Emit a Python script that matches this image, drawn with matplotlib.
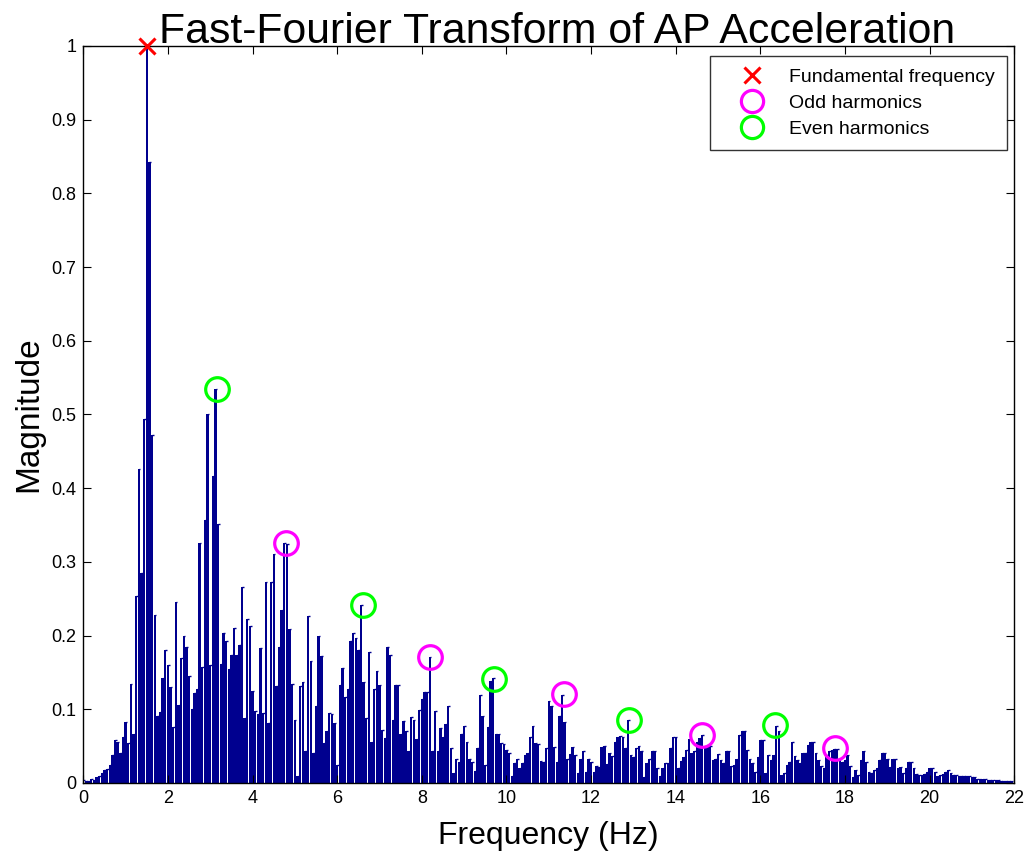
import numpy as np
import matplotlib
matplotlib.use("Agg")
import matplotlib.pyplot as plt
from matplotlib.lines import Line2D

plt.rcParams['font.family'] = ['Liberation Sans', 'DejaVu Sans']

# FFT bin spacing (Hz) and magnitudes, by frequency range
df = 0.0625
mag_0_to_5 = [
    0.004, 0.003, 0.003, 0.005, 0.004, 0.008, 0.010, 0.013, 0.017, 0.019,
    0.024, 0.038, 0.058, 0.055, 0.040, 0.063, 0.083, 0.054,
    0.134, 0.066, 0.253, 0.426, 0.285, 0.494, 1.0, 0.843, 0.472, 0.228,
    0.091, 0.096, 0.143, 0.181, 0.16, 0.13, 0.076, 0.245, 0.106, 0.169,
    0.2, 0.185, 0.145, 0.1, 0.122, 0.128, 0.326, 0.158, 0.357, 0.5,
    0.16, 0.416, 0.534, 0.352, 0.162, 0.204, 0.193, 0.154, 0.173, 0.21,
    0.173, 0.187, 0.266, 0.088, 0.222, 0.213, 0.125, 0.098, 0.094, 0.183,
    0.095, 0.273, 0.082, 0.273, 0.311, 0.132, 0.184, 0.235, 0.326, 0.324,
    0.209, 0.134, 0.086, 0.01, 0.131, 0.137, 0.044, 0.226, 0.165, 0.041,
    0.105,
]
mag_5_to_11 = [
    0.199, 0.172, 0.054, 0.070, 0.095, 0.094, 0.082, 0.024, 0.133, 0.156,
    0.117, 0.128, 0.193, 0.203, 0.196, 0.180, 0.241, 0.137, 0.088, 0.178,
    0.056, 0.128, 0.152, 0.133, 0.072, 0.061, 0.184, 0.173, 0.086, 0.133,
    0.133, 0.067, 0.084, 0.070, 0.043, 0.089, 0.086, 0.059, 0.099, 0.114,
    0.123, 0.123, 0.171, 0.044, 0.097, 0.044, 0.074, 0.063, 0.080, 0.104,
    0.048, 0.014, 0.032, 0.028, 0.067, 0.077, 0.056, 0.033, 0.028, 0.016,
    0.048, 0.120, 0.091, 0.024, 0.076, 0.139, 0.142, 0.067, 0.066, 0.054,
    0.053, 0.045, 0.041, 0.010, 0.027, 0.032, 0.020, 0.027, 0.038, 0.041,
    0.063, 0.077, 0.054, 0.053, 0.030, 0.028, 0.048, 0.111, 0.104, 0.049,
]
mag_11_to_17 = [
    0.029, 0.091, 0.120, 0.083, 0.033, 0.039, 0.049, 0.038, 0.014, 0.033,
    0.044, 0.015, 0.033, 0.028, 0.015, 0.023, 0.021, 0.049, 0.050, 0.026,
    0.041, 0.037, 0.056, 0.062, 0.064, 0.063, 0.048, 0.086, 0.038, 0.035,
    0.048, 0.050, 0.044, 0.008, 0.027, 0.032, 0.044, 0.044, 0.020, 0.009,
    0.020, 0.027, 0.027, 0.048, 0.063, 0.062, 0.020, 0.030, 0.035, 0.045,
    0.059, 0.041, 0.044, 0.056, 0.061, 0.065, 0.050, 0.052, 0.050, 0.031,
    0.032, 0.039, 0.031, 0.027, 0.044, 0.044, 0.023, 0.024, 0.033, 0.065,
    0.071, 0.071, 0.045, 0.033, 0.027, 0.015, 0.035, 0.058, 0.058, 0.013,
    0.038, 0.031, 0.038, 0.077, 0.070, 0.011, 0.013, 0.024, 0.028, 0.055,
]
mag_17_to_22 = [
    0.037, 0.031, 0.027, 0.040, 0.040, 0.052, 0.056, 0.055, 0.040, 0.031,
    0.023, 0.020, 0.038, 0.043, 0.045, 0.046, 0.046, 0.032, 0.028, 0.031,
    0.038, 0.023, 0.008, 0.018, 0.011, 0.031, 0.043, 0.029, 0.015, 0.014,
    0.018, 0.020, 0.031, 0.041, 0.040, 0.033, 0.022, 0.033, 0.032, 0.020,
    0.022, 0.014, 0.020, 0.029, 0.029, 0.020, 0.012, 0.011, 0.011, 0.012,
    0.015, 0.020, 0.020, 0.015, 0.009, 0.011, 0.012, 0.015, 0.017, 0.014,
    0.011, 0.011, 0.009, 0.009, 0.009, 0.009, 0.009, 0.008, 0.008, 0.006,
    0.006, 0.006, 0.005, 0.004, 0.004, 0.004, 0.004, 0.004, 0.003, 0.003,
    0.003, 0.003, 0.003,
]

fund_freq = [1.5]
fund_mag = [1.0]
odd_freq = [4.79, 8.19, 11.36, 14.62, 17.76]
odd_mag = [0.326, 0.171, 0.121, 0.065, 0.047]
even_freq = [3.16, 6.61, 9.70, 12.89, 16.34]
even_mag = [0.535, 0.242, 0.141, 0.085, 0.079]

magnitude = np.array(mag_0_to_5 + mag_5_to_11 + mag_11_to_17 + mag_17_to_22)
freq = np.arange(len(magnitude)) * df

bar_color = "#00008F"

fig = plt.figure(figsize=(10.27, 8.57), dpi=100)
ax = fig.add_axes([0.0811, 0.0864, 0.9065, 0.86])

ax.bar(freq, magnitude, width=0.9 * df, color=bar_color, linewidth=0)
# little flag on top of each bar, like the matlab rendering
ax.hlines(magnitude, freq, freq + 0.6 * df, color=bar_color, linewidth=1)

ax.plot(fund_freq, fund_mag, "x", color="red", markersize=11, mew=2.2,
        clip_on=False, zorder=5)
ax.plot(odd_freq, odd_mag, "o", mfc="none", mec="#FF00FF", markersize=17,
        mew=2.3, zorder=5)
ax.plot(even_freq, even_mag, "o", mfc="none", mec="#00FF00", markersize=17,
        mew=2.3, zorder=5)

ax.set_xlim(0, 22)
ax.set_ylim(0, 1)
ax.set_xticks(np.arange(0, 23, 2))
ax.set_yticks(np.arange(0, 1.01, 0.1))
ax.set_yticklabels(["%g" % round(v, 1) for v in np.arange(0, 1.01, 0.1)])
ax.tick_params(direction="in", top=True, right=True, length=6, width=0.8,
               labelsize=13, pad=5)
for s in ax.spines.values():
    s.set_linewidth(1)

ax.set_title("Fast-Fourier Transform of AP Acceleration", fontsize=30.8, pad=2, x=0.509)
ax.set_xlabel("Frequency (Hz)", fontsize=23, labelpad=10)
ax.set_ylabel("Magnitude", fontsize=24, labelpad=5)

handles = [
    Line2D([], [], linestyle="none", marker="x", color="red", markersize=11, mew=2.2),
    Line2D([], [], linestyle="none", marker="o", mfc="none", mec="#FF00FF", markersize=16, mew=2.3),
    Line2D([], [], linestyle="none", marker="o", mfc="none", mec="#00FF00", markersize=16, mew=2.3),
]
leg = ax.legend(handles, ["Fundamental frequency", "Odd harmonics", "Even harmonics"],
                loc="upper right", bbox_to_anchor=(0.992, 0.986), borderaxespad=0,
                fontsize=14, frameon=True, fancybox=False, handlelength=3.2,
                handletextpad=0.3, labelspacing=0.45, borderpad=0.6)
leg.get_frame().set_edgecolor("black")
leg.get_frame().set_linewidth(1)

fig.savefig("out.png", dpi=100)
